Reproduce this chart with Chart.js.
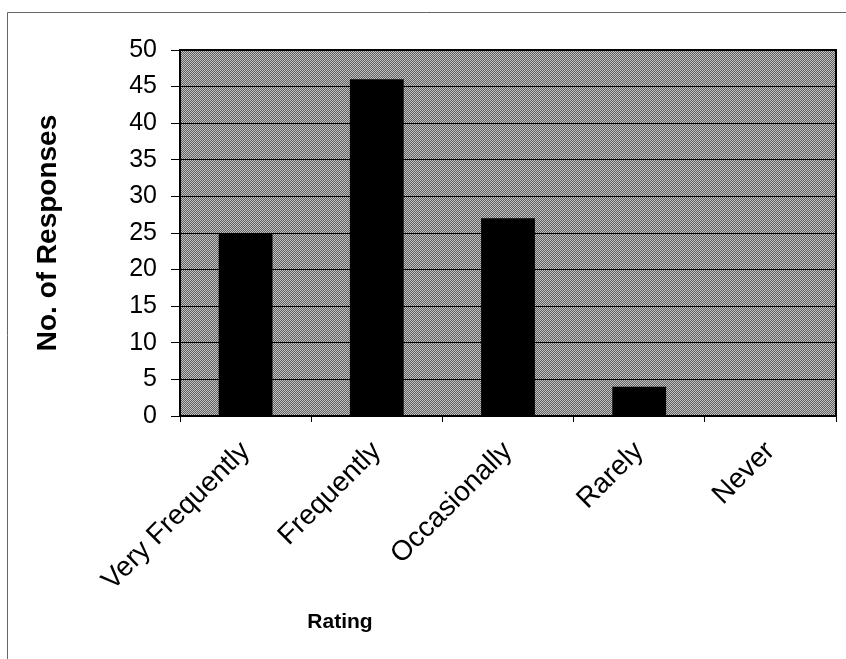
<!DOCTYPE html>
<html>
<head>
<meta charset="utf-8">
<script src="https://cdn.jsdelivr.net/npm/chart.js@4.4.0/dist/chart.umd.min.js"></script>
<style>
  html, body { margin: 0; padding: 0; background: #fff; }
  #wrap { width: 846px; height: 659px; }
</style>
</head>
<body>
<div id="wrap"><canvas id="grafik" width="846" height="659"></canvas></div>
<script>
const ratings = ["Very Frequently", "Frequently", "Occasionally", "Rarely", "Never"];
const responses = [25, 46, 27, 4, 0];
const yMin = 0;
const yMax = 50;
const yStep = 5;
const xTitle = "Rating";
const yTitle = "No. of Responses";

// sivi "dither" uzorak za pozadinu grafika
function napraviUzorak(ctx) {
    const c = document.createElement("canvas");
    c.width = 2;
    c.height = 2;
    const g = c.getContext("2d");
    g.fillStyle = "#606060";
    g.fillRect(0, 0, 2, 2);
    g.fillStyle = "#c2c2c2";
    g.fillRect(0, 0, 1, 1);
    g.fillRect(1, 1, 1, 1);
    return ctx.createPattern(c, "repeat");
}

const pozadina = {
    id: "pozadina",
    beforeDraw(chart) {
        const { ctx, chartArea: a } = chart;
        ctx.save();
        // okvir oko cijele slike
        ctx.strokeStyle = "#666";
        ctx.lineWidth = 1;
        ctx.beginPath();
        ctx.moveTo(846, 12.5);
        ctx.lineTo(7.5, 12.5);
        ctx.lineTo(7.5, 659);
        ctx.stroke();
        ctx.fillStyle = napraviUzorak(ctx);
        ctx.fillRect(a.left, a.top, a.right - a.left, a.bottom - a.top);
        ctx.restore();
    },
    afterDraw(chart) {
        const { ctx, chartArea: a } = chart;
        ctx.save();
        ctx.strokeStyle = "#000";
        ctx.lineWidth = 2;
        ctx.strokeRect(a.left, a.top, a.right - a.left, a.bottom - a.top);
        ctx.fillStyle = "#000";
        ctx.font = "bold 21px 'Liberation Sans', Arial, sans-serif";
        ctx.textAlign = "center";
        ctx.textBaseline = "middle";
        ctx.fillText(xTitle, 340, 622);
        ctx.restore();
    }
};

new Chart(document.getElementById("grafik").getContext("2d"), {
    type: "bar",
    data: {
        labels: ratings,
        datasets: [{
            label: yTitle,
            data: responses,
            backgroundColor: "#000",
            borderWidth: 0,
            categoryPercentage: 1,
            barPercentage: 0.41
        }]
    },
    options: {
        responsive: false,
        animation: false,
        devicePixelRatio: 1,
        layout: { padding: { left: 25, right: 10, top: 50, bottom: 25 } },
        plugins: {
            legend: { display: false },
            tooltip: { enabled: false }
        },
        scales: {
            x: {
                offset: true,
                grid: { display: true, drawOnChartArea: false, color: "#000", tickLength: 6 },
                border: { display: true, color: "#000", width: 2 },
                ticks: {
                    color: "#000",
                    minRotation: 45,
                    maxRotation: 45,
                    padding: 13,
                    font: { family: "'Liberation Sans', Arial, sans-serif", size: 28 }
                },
                afterFit(scale) { scale.height = 659 - 25 - 416; }
            },
            y: {
                min: yMin,
                max: yMax,
                grid: { color: "#000", lineWidth: 1, tickLength: 9 },
                border: { display: true, color: "#000", width: 2 },
                ticks: {
                    stepSize: yStep,
                    color: "#000",
                    padding: 14,
                    font: { family: "'Liberation Sans', Arial, sans-serif", size: 25 }
                },
                title: {
                    display: true,
                    text: yTitle,
                    color: "#000",
                    padding: { top: 6, bottom: 0 },
                    font: { family: "'Liberation Sans', Arial, sans-serif", size: 28, weight: "bold" }
                },
                afterFit(scale) { scale.width = 155; }
            }
        }
    },
    plugins: [pozadina]
});
</script>
</body>
</html>
